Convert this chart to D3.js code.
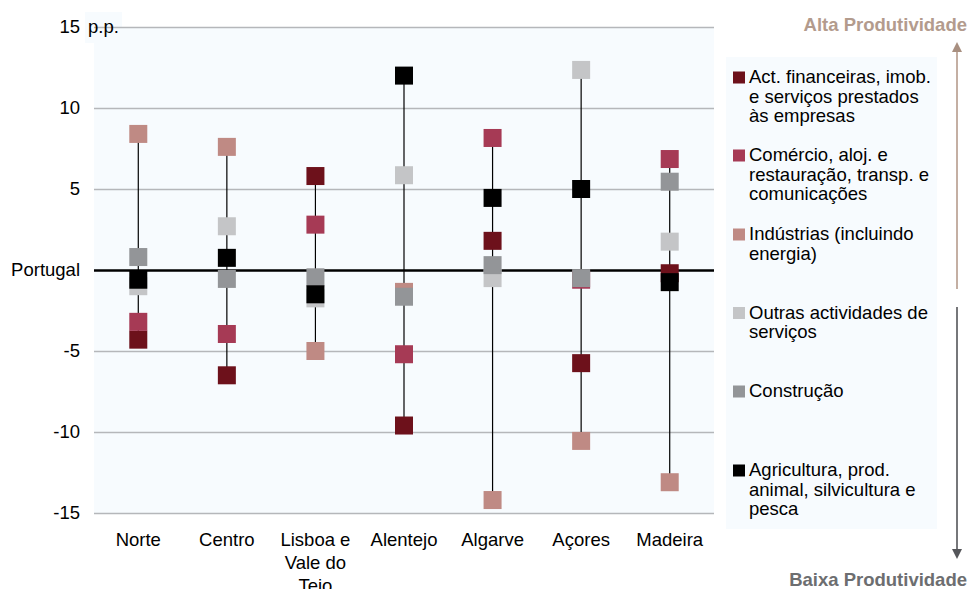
<!DOCTYPE html>
<meta charset="utf-8">
<script src="https://cdn.jsdelivr.net/npm/d3@7"></script>
<style>
body { margin: 0; background: #fff; }
text { font-family: "Liberation Sans", Arial, sans-serif; }
</style>
<body>
<script>
// data (p.p. vs Portugal)
var regions = ["Norte", "Centro", "Lisboa e\nVale do\nTejo", "Alentejo", "Algarve", "Açores", "Madeira"]
var sectors = ["Act. financeiras, imob.\ne serviços prestados\nàs empresas",
               "Comércio, aloj. e\nrestauração, transp. e\ncomunicações",
               "Indústrias (incluindo\nenergia)",
               "Outras actividades de\nserviços",
               "Construção",
               "Agricultura, prod.\nanimal, silvicultura e\npesca"]
var colors = ["#6d111b", "#a63a55", "#bf8a84", "#c4c5c7", "#939598", "#000000"]

var actFin      = [-4.3, -6.5,  5.8, -9.6,  1.8, -5.75,  -0.2]
var comercio    = [-3.2, -3.95, 2.8, -5.2,  8.15, -0.6,   6.85]
var industrias  = [ 8.4,  7.6, -5.0, -1.35, -14.2, -10.55, -13.1]
var outras      = [-1.0,  2.7, -1.75, 5.85, -0.5, 12.35,   1.75]
var construcao  = [ 0.8, -0.55, -0.45, -1.65, 0.3, -0.5,   5.45]
var agricultura = [-0.6,  0.75, -1.5, 12.0,  4.45,  5.0,  -0.75]
var series = [actFin, comercio, industrias, outras, construcao, agricultura]

var yTicks = [-15, -10, -5, 0, 5, 10, 15]

var W = 969, H = 589
var pL = 94, pR = 714, pT = 27, pB = 513
var fs = 18.5

var svg = d3.select("body").append("svg").attr("width", W).attr("height", H)

var x = d3.scaleBand().domain(regions).range([pL, pR])
var y = d3.scaleLinear().domain([-15, 15]).range([pB, pT])

// plot background
svg.append("rect").attr("x", pL).attr("y", pT).attr("width", pR - pL).attr("height", pB - pT).attr("fill", "#f7fbfe")
svg.append("rect").attr("x", 85).attr("y", 12).attr("width", 37).attr("height", 31).attr("fill", "#f7fbfe")

// grid + y labels
var yAxis = svg.append("g").attr("transform", "translate(" + pL + ",0)")
  .call(d3.axisLeft(y).tickValues(yTicks).tickSize(-(pR - pL)).tickPadding(14)
    .tickFormat(function(d) { return d == 0 ? "Portugal" : d }))
yAxis.select(".domain").remove()
yAxis.selectAll(".tick line").attr("stroke", function(d) { return d == 0 ? "#000" : "#b5b7ba" })
  .attr("stroke-width", function(d) { return d == 0 ? 2.5 : 1.5 })
yAxis.selectAll(".tick text").attr("font-size", fs).attr("fill", "#000").style("font-family", "Liberation Sans, Arial, sans-serif")
svg.append("text").attr("x", 88).attr("y", y(15)).attr("dy", "0.32em").attr("font-size", fs).text("p.p.")

// range lines per region
var g = svg.append("g")
regions.forEach(function(r, i) {
  var vals = series.map(function(s) { return s[i] })
  g.append("line")
    .attr("x1", x(r) + x.bandwidth() / 2).attr("x2", x(r) + x.bandwidth() / 2)
    .attr("y1", y(d3.min(vals))).attr("y2", y(d3.max(vals)))
    .attr("stroke", "#000").attr("stroke-width", 1.2)
})

// markers, drawn in legend order
var ms = 18
series.forEach(function(s, k) {
  g.selectAll(".m" + k).data(s).enter().append("rect")
    .attr("x", function(d, i) { return x(regions[i]) + x.bandwidth() / 2 - ms / 2 })
    .attr("y", function(d) { return y(d) - ms / 2 })
    .attr("width", ms).attr("height", ms)
    .attr("fill", colors[k])
})

// x labels
regions.forEach(function(r) {
  var t = svg.append("text").attr("x", x(r) + x.bandwidth() / 2).attr("y", 546)
    .attr("text-anchor", "middle").attr("font-size", fs)
  r.split("\n").forEach(function(line, j) {
    t.append("tspan").attr("x", x(r) + x.bandwidth() / 2).attr("dy", j ? 23 : 0).text(line)
  })
})

// legend
svg.append("rect").attr("x", 726).attr("y", 57).attr("width", 211).attr("height", 472).attr("fill", "#f7fbfe")
var legY = [83, 161, 240, 318.5, 397, 476]
sectors.forEach(function(s, k) {
  svg.append("rect").attr("x", 733).attr("y", legY[k] - 11.5).attr("width", 12).attr("height", 12).attr("fill", colors[k])
  var t = svg.append("text").attr("x", 749).attr("y", legY[k]).attr("font-size", fs)
  s.split("\n").forEach(function(line, j) {
    t.append("tspan").attr("x", 749).attr("dy", j ? 19.5 : 0).text(line)
  })
})

// productivity arrows
var defs = svg.append("defs")
function head(id, c) {
  defs.append("marker").attr("id", id).attr("viewBox", "0 0 10 10").attr("refX", 0).attr("refY", 5)
    .attr("markerWidth", 10).attr("markerHeight", 10).attr("markerUnits", "userSpaceOnUse").attr("orient", "auto")
    .append("path").attr("d", "M0,0L10,5L0,10Z").attr("fill", c)
}
head("up", "#a88f80")
head("down", "#55565a")
svg.append("line").attr("x1", 957).attr("x2", 957).attr("y1", 289).attr("y2", 52)
  .attr("stroke", "#c4afa3").attr("stroke-width", 2).attr("marker-end", "url(#up)")
svg.append("line").attr("x1", 957).attr("x2", 957).attr("y1", 307).attr("y2", 549)
  .attr("stroke", "#76777a").attr("stroke-width", 2).attr("marker-end", "url(#down)")

svg.append("text").attr("x", 967).attr("y", 25).attr("dy", "0.35em").attr("text-anchor", "end")
  .attr("font-size", fs).attr("font-weight", "bold").attr("fill", "#b39b8d").text("Alta Produtividade")
svg.append("text").attr("x", 967).attr("y", 580).attr("dy", "0.35em").attr("text-anchor", "end")
  .attr("font-size", fs).attr("font-weight", "bold").attr("fill", "#6d6e70").text("Baixa Produtividade")
</script>
</body>
